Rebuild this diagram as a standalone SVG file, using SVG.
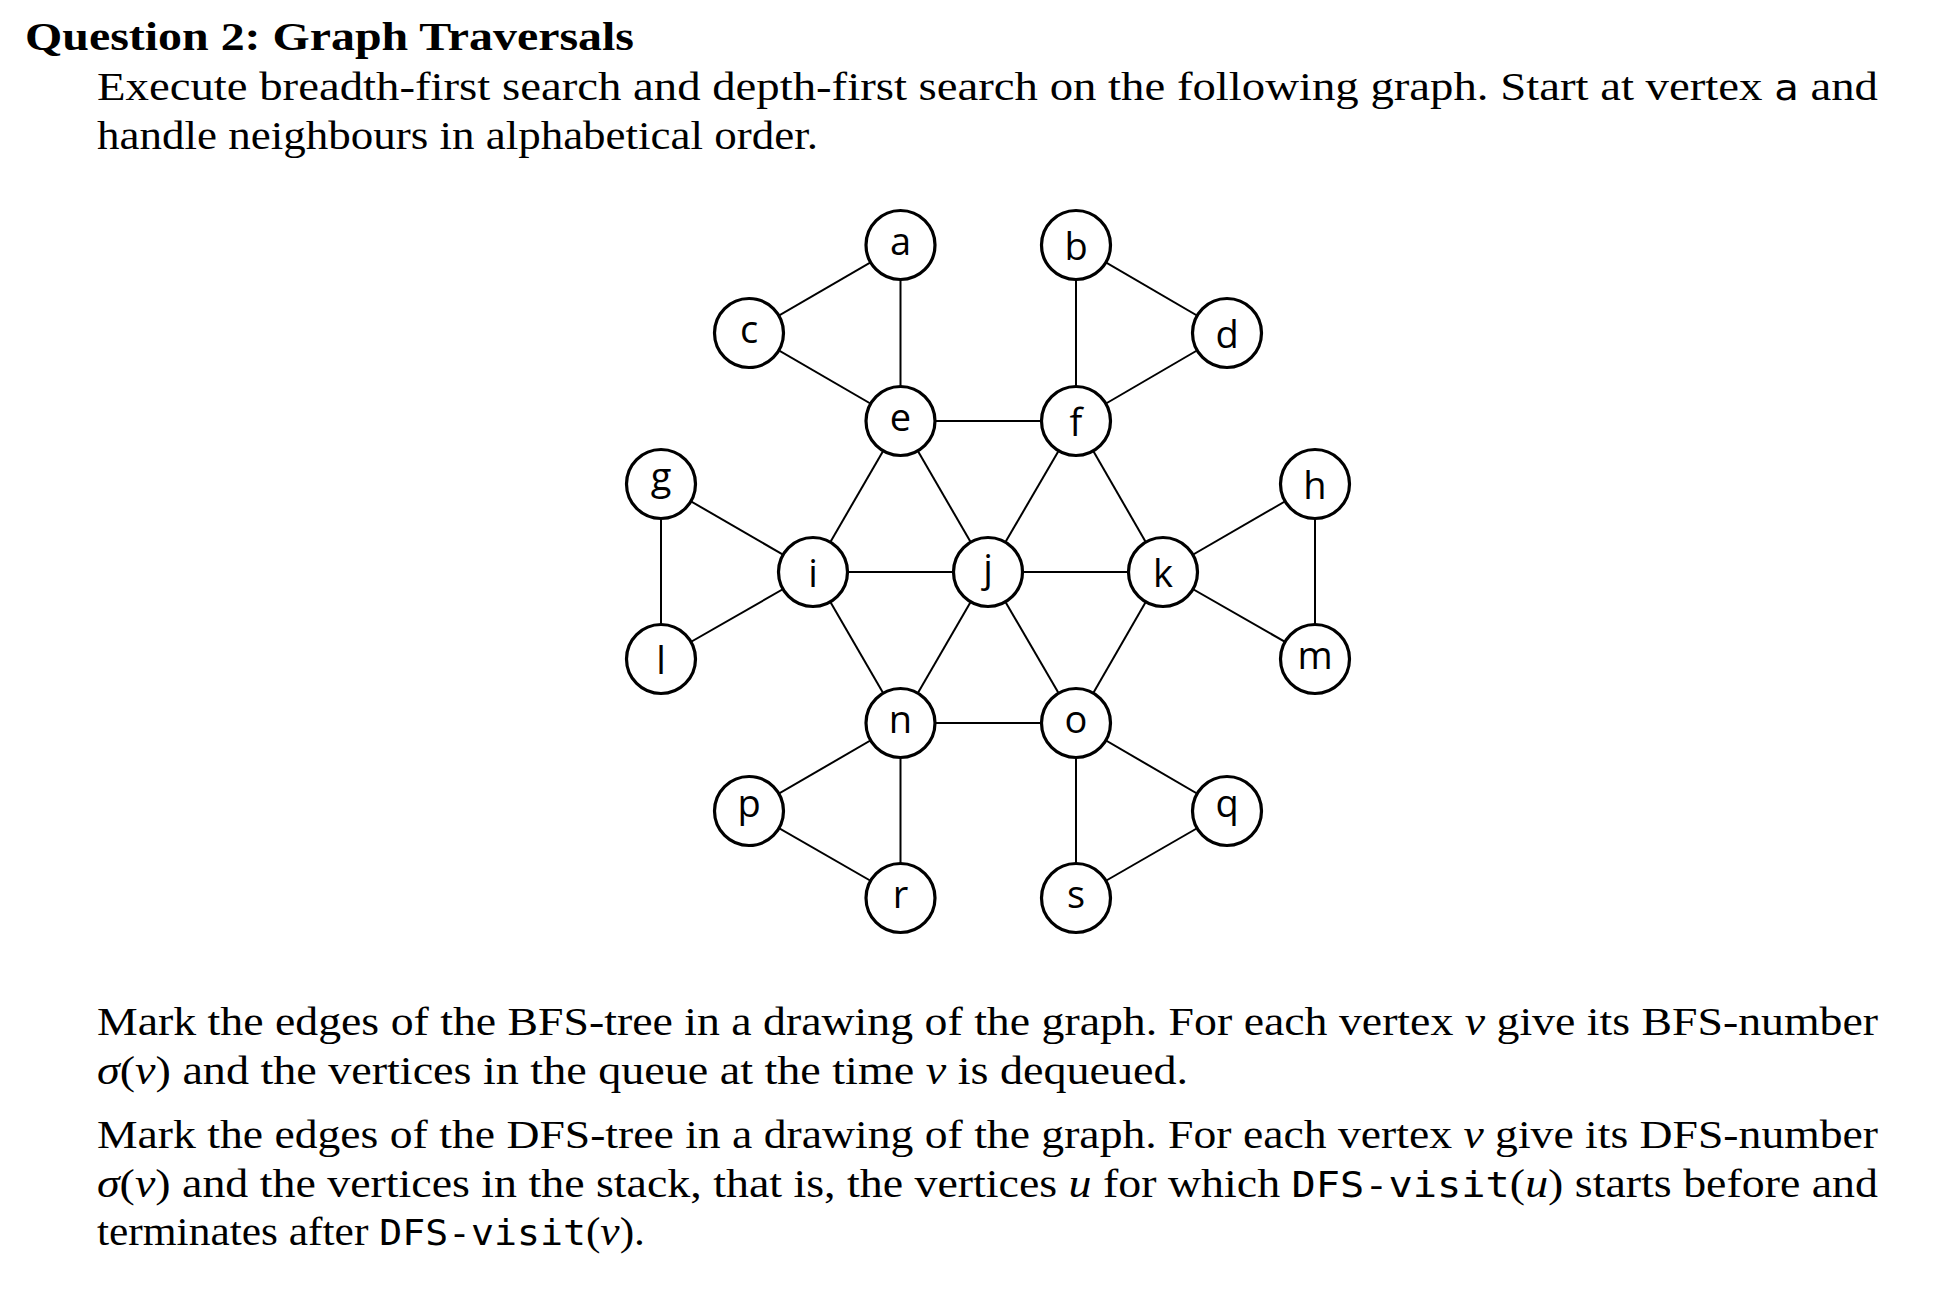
<svg xmlns="http://www.w3.org/2000/svg" width="1944" height="1290" viewBox="0 0 1944 1290">
<style>
.bg{fill:#fff}
.edge{stroke:#000;stroke-width:2;fill:none}
.node circle{fill:#fff;stroke:#000;stroke-width:3.2}
.node text{font-family:"Open Sans","Noto Sans","DejaVu Sans",sans-serif;font-size:38px;fill:#000;text-anchor:middle}
.body{font-family:"Liberation Serif","Times New Roman",serif;font-size:41px;fill:#000}
.title{font-family:"Liberation Serif","Times New Roman",serif;font-size:41px;font-weight:bold;fill:#000}
.tt{font-family:"DejaVu Sans Mono","Liberation Mono",monospace;font-size:36px}
.it{font-style:italic}
</style>
<rect class="bg" x="0" y="0" width="1944" height="1290"/>
<g id="text">
<text class="title" x="25" y="50" textLength="609" lengthAdjust="spacingAndGlyphs">Question 2:  Graph Traversals</text>
<text class="body" x="97" y="100" textLength="1781" lengthAdjust="spacingAndGlyphs">Execute breadth-first search and depth-first search on the following graph.  Start at vertex <tspan class="tt">a</tspan> and</text>
<text class="body" x="97" y="148.5" textLength="721" lengthAdjust="spacingAndGlyphs">handle neighbours in alphabetical order.</text>
<text class="body" x="97" y="1035" textLength="1781" lengthAdjust="spacingAndGlyphs">Mark the edges of the BFS-tree in a drawing of the graph.  For each vertex <tspan class="it">v</tspan> give its BFS-number</text>
<text class="body" x="97" y="1083.5" textLength="1091" lengthAdjust="spacingAndGlyphs"><tspan class="it">σ</tspan>(<tspan class="it">v</tspan>) and the vertices in the queue at the time <tspan class="it">v</tspan> is dequeued.</text>
<text class="body" x="97" y="1148" textLength="1781" lengthAdjust="spacingAndGlyphs">Mark the edges of the DFS-tree in a drawing of the graph.  For each vertex <tspan class="it">v</tspan> give its DFS-number</text>
<text class="body" x="97" y="1196.5" textLength="1781" lengthAdjust="spacingAndGlyphs"><tspan class="it">σ</tspan>(<tspan class="it">v</tspan>) and the vertices in the stack, that is, the vertices <tspan class="it">u</tspan> for which <tspan class="tt">DFS-visit</tspan>(<tspan class="it">u</tspan>) starts before and</text>
<text class="body" x="97" y="1245" textLength="548" lengthAdjust="spacingAndGlyphs">terminates after <tspan class="tt">DFS-visit</tspan>(<tspan class="it">v</tspan>).</text>
</g>
<g id="edges">
<line class="edge" x1="900.5" y1="245" x2="749" y2="333"/>
<line class="edge" x1="900.5" y1="245" x2="900.5" y2="421"/>
<line class="edge" x1="749" y1="333" x2="900.5" y2="421"/>
<line class="edge" x1="1076" y1="245" x2="1227" y2="333"/>
<line class="edge" x1="1076" y1="245" x2="1076" y2="421"/>
<line class="edge" x1="1227" y1="333" x2="1076" y2="421"/>
<line class="edge" x1="900.5" y1="421" x2="1076" y2="421"/>
<line class="edge" x1="900.5" y1="421" x2="813" y2="572"/>
<line class="edge" x1="900.5" y1="421" x2="988" y2="572"/>
<line class="edge" x1="1076" y1="421" x2="988" y2="572"/>
<line class="edge" x1="1076" y1="421" x2="1163" y2="572"/>
<line class="edge" x1="661" y1="484" x2="813" y2="572"/>
<line class="edge" x1="661" y1="484" x2="661" y2="659"/>
<line class="edge" x1="661" y1="659" x2="813" y2="572"/>
<line class="edge" x1="1315" y1="484" x2="1163" y2="572"/>
<line class="edge" x1="1315" y1="484" x2="1315" y2="659"/>
<line class="edge" x1="1315" y1="659" x2="1163" y2="572"/>
<line class="edge" x1="813" y1="572" x2="988" y2="572"/>
<line class="edge" x1="988" y1="572" x2="1163" y2="572"/>
<line class="edge" x1="813" y1="572" x2="900.5" y2="723"/>
<line class="edge" x1="988" y1="572" x2="900.5" y2="723"/>
<line class="edge" x1="988" y1="572" x2="1076" y2="723"/>
<line class="edge" x1="1163" y1="572" x2="1076" y2="723"/>
<line class="edge" x1="900.5" y1="723" x2="1076" y2="723"/>
<line class="edge" x1="900.5" y1="723" x2="749" y2="811"/>
<line class="edge" x1="900.5" y1="723" x2="900.5" y2="898"/>
<line class="edge" x1="749" y1="811" x2="900.5" y2="898"/>
<line class="edge" x1="1076" y1="723" x2="1227" y2="811"/>
<line class="edge" x1="1076" y1="723" x2="1076" y2="898"/>
<line class="edge" x1="1227" y1="811" x2="1076" y2="898"/>
</g>
<g id="node-a" class="node"><circle cx="900.5" cy="245" r="34.5"/><text x="900.5" y="255">a</text></g>
<g id="node-b" class="node"><circle cx="1076" cy="245" r="34.5"/><text x="1076" y="259.5">b</text></g>
<g id="node-c" class="node"><circle cx="749" cy="333" r="34.5"/><text x="749" y="343">c</text></g>
<g id="node-d" class="node"><circle cx="1227" cy="333" r="34.5"/><text x="1227" y="347.5">d</text></g>
<g id="node-e" class="node"><circle cx="900.5" cy="421" r="34.5"/><text x="900.5" y="431">e</text></g>
<g id="node-f" class="node"><circle cx="1076" cy="421" r="34.5"/><text x="1076" y="435.5">f</text></g>
<g id="node-g" class="node"><circle cx="661" cy="484" r="34.5"/><text x="661" y="489.6">g</text></g>
<g id="node-h" class="node"><circle cx="1315" cy="484" r="34.5"/><text x="1315" y="498.5">h</text></g>
<g id="node-i" class="node"><circle cx="813" cy="572" r="34.5"/><text x="813" y="587">i</text></g>
<g id="node-j" class="node"><circle cx="988" cy="572" r="34.5"/><text x="988" y="582">j</text></g>
<g id="node-k" class="node"><circle cx="1163" cy="572" r="34.5"/><text x="1163" y="586.5">k</text></g>
<g id="node-l" class="node"><circle cx="661" cy="659" r="34.5"/><text x="661" y="673.5">l</text></g>
<g id="node-m" class="node"><circle cx="1315" cy="659" r="34.5"/><text x="1315" y="669">m</text></g>
<g id="node-n" class="node"><circle cx="900.5" cy="723" r="34.5"/><text x="900.5" y="733">n</text></g>
<g id="node-o" class="node"><circle cx="1076" cy="723" r="34.5"/><text x="1076" y="733">o</text></g>
<g id="node-p" class="node"><circle cx="749" cy="811" r="34.5"/><text x="749" y="816.6">p</text></g>
<g id="node-q" class="node"><circle cx="1227" cy="811" r="34.5"/><text x="1227" y="816.6">q</text></g>
<g id="node-r" class="node"><circle cx="900.5" cy="898" r="34.5"/><text x="900.5" y="908">r</text></g>
<g id="node-s" class="node"><circle cx="1076" cy="898" r="34.5"/><text x="1076" y="908">s</text></g>
</svg>
